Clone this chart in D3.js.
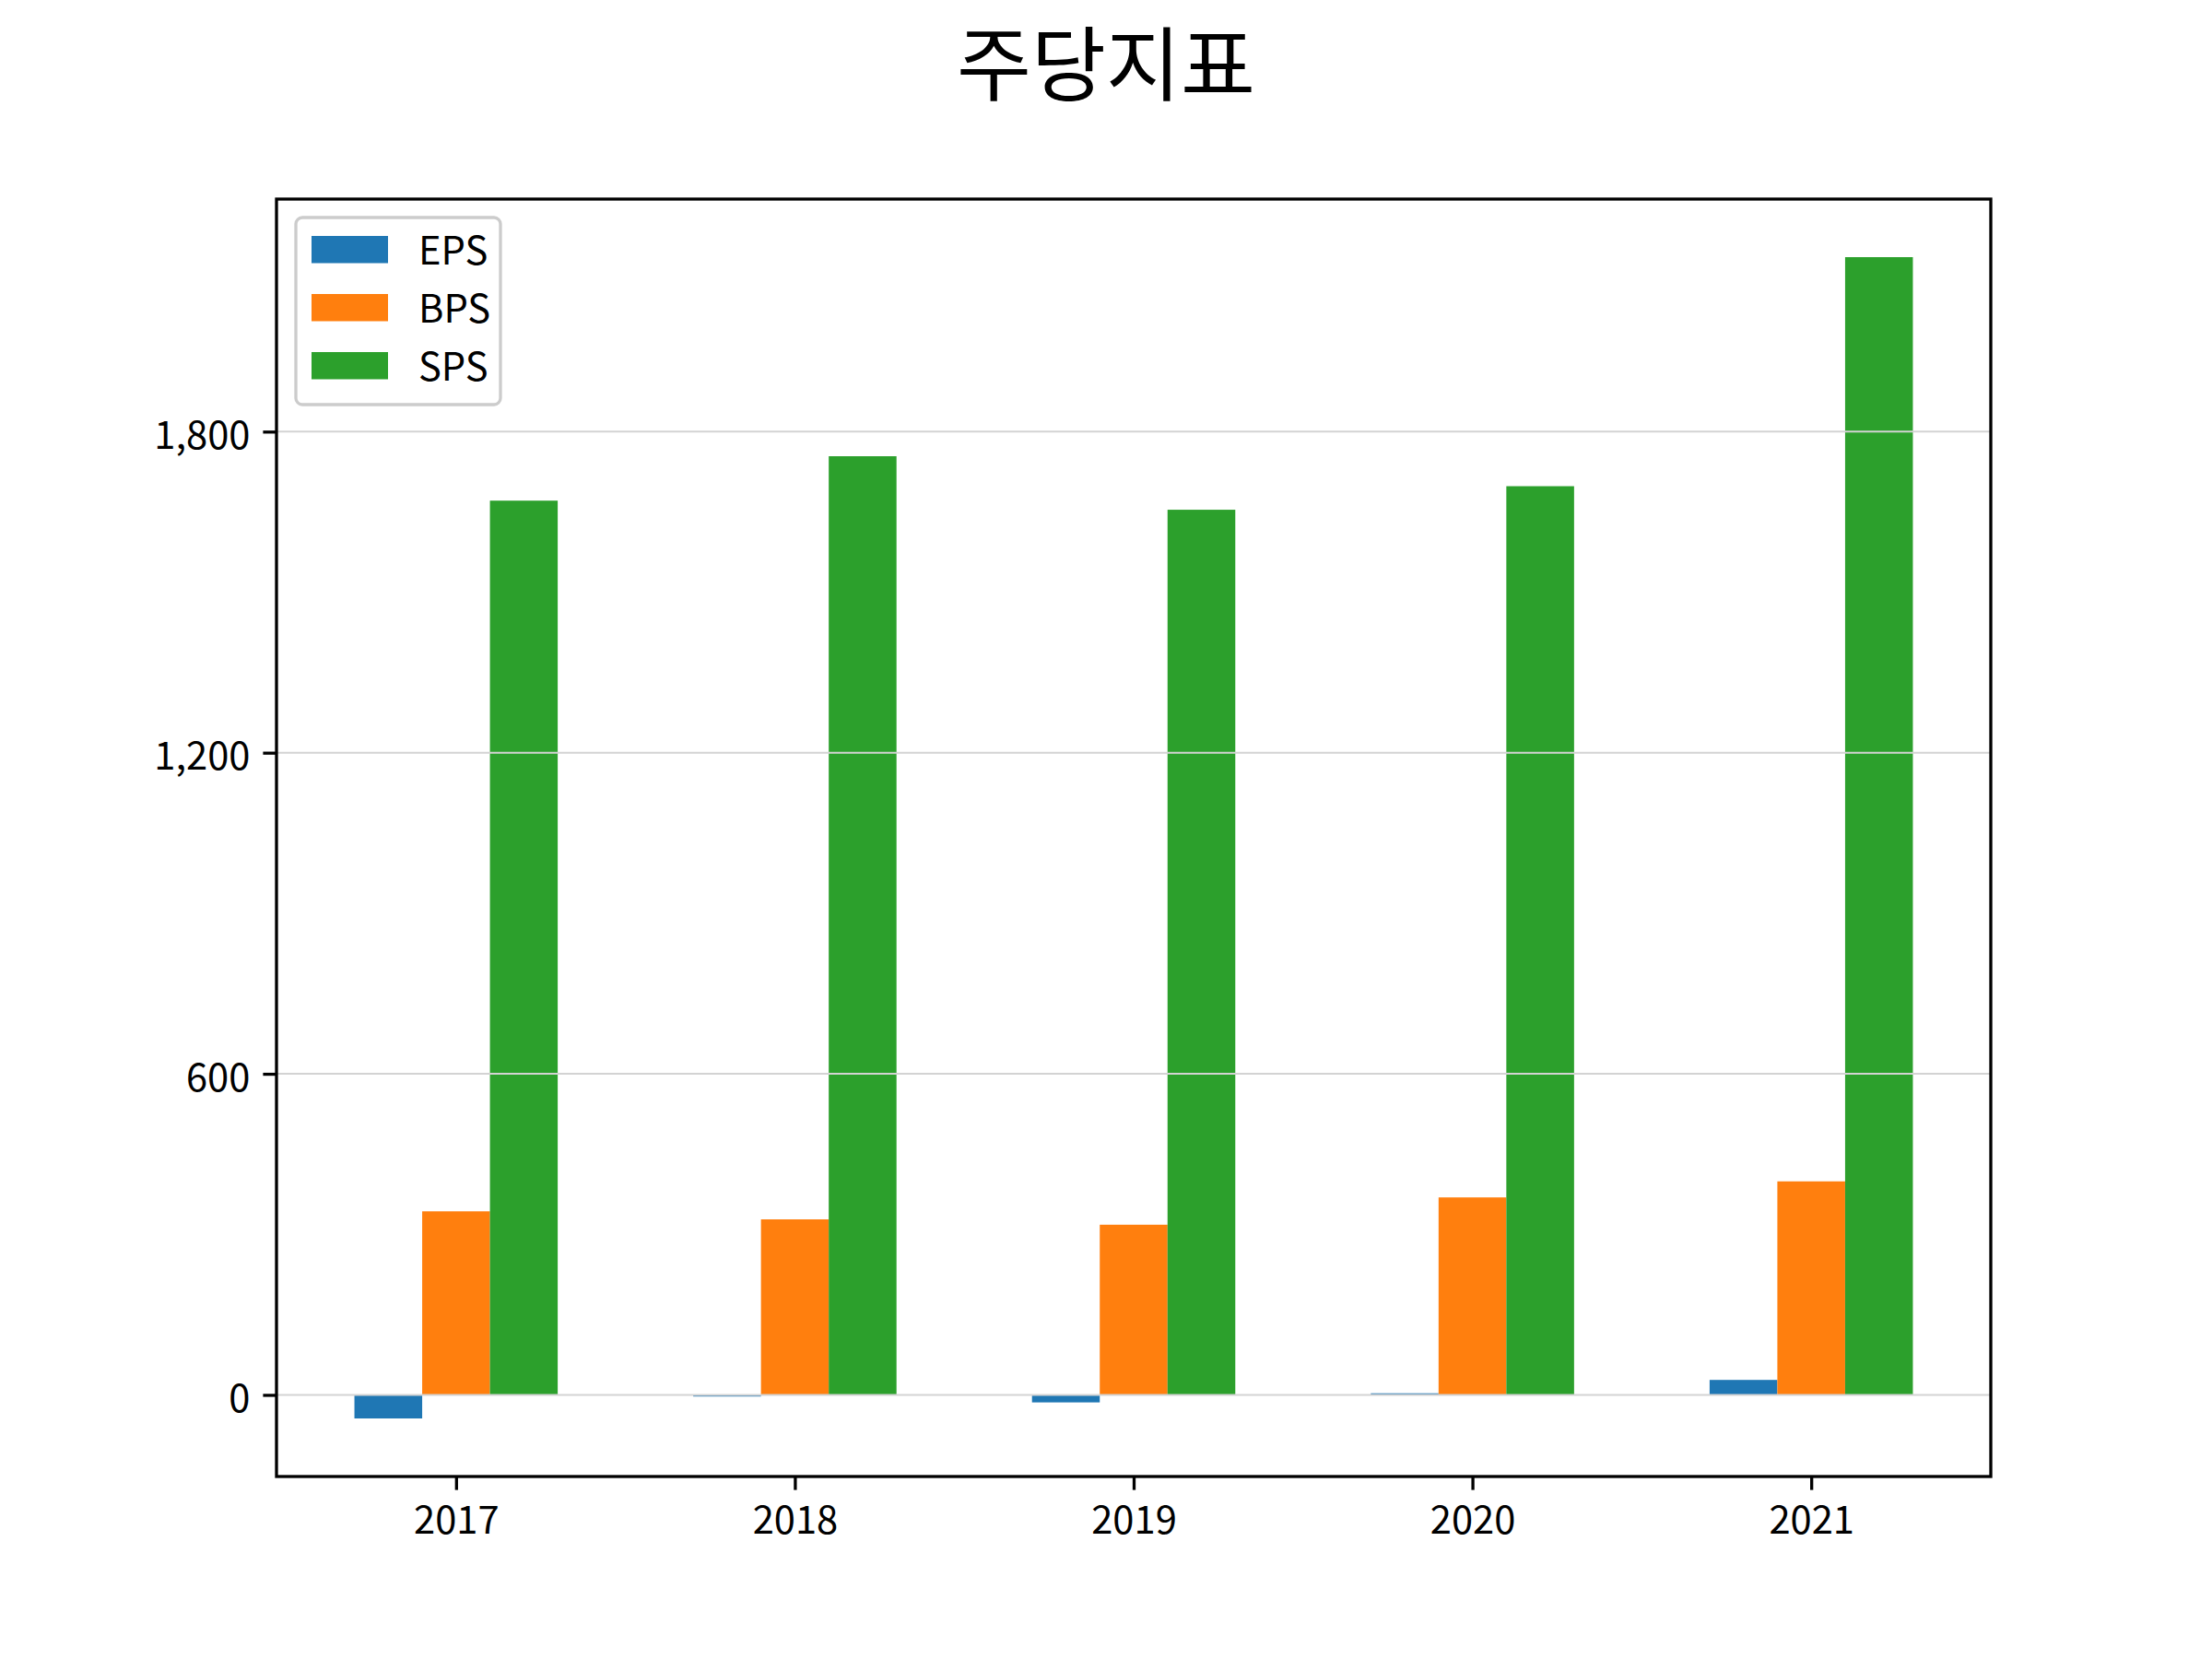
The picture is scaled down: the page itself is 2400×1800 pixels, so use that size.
<!DOCTYPE html>
<html>
<head>
<meta charset="utf-8">
<script src="https://cdn.jsdelivr.net/npm/d3@7"></script>
<style>
  html, body { margin: 0; padding: 0; background: #ffffff; }
  svg { display: block; }
  text { font-family: "Noto Sans CJK KR", "Noto Sans", sans-serif; fill: #000; }
</style>
</head>
<body>
<svg id="chart" width="2400" height="1800"></svg>
<script>
// ---- data ----
const years = ["2017", "2018", "2019", "2020", "2021"];
const seriesNames = ["EPS", "BPS", "SPS"];
const eps = [-44, -3, -14, 3, 28];
const bps = [343, 328, 318, 369, 399];
const sps = [1671, 1754, 1654, 1698, 2126];
const yTickValues = [0, 600, 1200, 1800];
const chartTitle = "주당지표";
const colors = ["#1f77b4", "#ff7f0e", "#2ca02c"];

const seriesValues = [eps, bps, sps];

// ---- layout ----
const W = 2400, H = 1800;
const plotL = 300, plotR = 2160, plotT = 216, plotB = 1602;
const barW = 0.2;

const svg = d3.select("#chart");
svg.append("rect").attr("width", W).attr("height", H).attr("fill", "#fff");

// x domain as matplotlib auto margins (5%)
const xMin = -0.3, xMax = (years.length - 1) + 0.3;
const xPad = (xMax - xMin) * 0.05;
const x = d3.scaleLinear().domain([xMin - xPad, xMax + xPad]).range([plotL, plotR]);

const allVals = seriesValues.flat();
const vMin = Math.min(0, d3.min(allVals)), vMax = d3.max(allVals);
const yPad = (vMax - vMin) * 0.05;
const y = d3.scaleLinear().domain([vMin - yPad, vMax + yPad]).range([plotB, plotT]);

const g = svg.append("g");

// bars
seriesValues.forEach((vals, si) => {
  const offset = (si - 1) * barW; // center offset
  g.selectAll(null)
    .data(vals)
    .enter()
    .append("rect")
    .attr("x", (d, i) => x(i + offset - barW / 2))
    .attr("width", (d, i) => x(i + offset + barW / 2) - x(i + offset - barW / 2))
    .attr("y", d => y(Math.max(0, d)))
    .attr("height", d => Math.abs(y(0) - y(d)))
    .attr("fill", colors[si]);
});

// grid lines (above bars, like matplotlib default)
g.selectAll(null)
  .data(yTickValues)
  .enter()
  .append("line")
  .attr("x1", plotL).attr("x2", plotR)
  .attr("y1", d => y(d)).attr("y2", d => y(d))
  .attr("stroke", "#d3d3d3")
  .attr("stroke-width", 2);

// axes
const fmt = d3.format(",");
const yAxis = d3.axisLeft(y).tickValues(yTickValues).tickFormat(fmt).tickSize(14.6).tickPadding(14);
const xAxis = d3.axisBottom(x).tickValues(d3.range(years.length)).tickFormat(i => years[i]).tickSize(14.6).tickPadding(16);

const ya = svg.append("g").attr("transform", `translate(${plotL},0)`).call(yAxis);
const xa = svg.append("g").attr("transform", `translate(0,${plotB})`).call(xAxis);

[ya, xa].forEach(a => {
  a.select(".domain").remove();
  a.selectAll(".tick line").attr("stroke", "#000").attr("stroke-width", 3.3);
  a.selectAll(".tick text")
    .attr("font-family", '"Noto Sans CJK KR", "Noto Sans", sans-serif')
    .attr("font-size", 41.7)
    .attr("fill", "#000");
});
ya.selectAll(".tick text").attr("dy", null).attr("dominant-baseline", "central");
xa.selectAll(".tick text").attr("dy", null).attr("y", 62);

// frame (spines)
svg.append("rect")
  .attr("x", plotL).attr("y", plotT)
  .attr("width", plotR - plotL).attr("height", plotB - plotT)
  .attr("fill", "none")
  .attr("stroke", "#000")
  .attr("stroke-width", 3.3);

// legend
const lg = svg.append("g");
lg.append("rect")
  .attr("x", 321).attr("y", 236)
  .attr("width", 222).attr("height", 203)
  .attr("rx", 7).attr("ry", 7)
  .attr("fill", "#fff").attr("fill-opacity", 0.8)
  .attr("stroke", "#cccccc").attr("stroke-width", 3.3);

const legendRows = [0, 1, 2];
lg.selectAll(null)
  .data(legendRows)
  .enter()
  .append("rect")
  .attr("x", 338)
  .attr("y", i => 256 + i * 63)
  .attr("width", 83)
  .attr("height", 29.5)
  .attr("fill", i => colors[i]);

lg.selectAll(null)
  .data(legendRows)
  .enter()
  .append("text")
  .attr("x", 454)
  .attr("y", i => 256 + i * 63 + 13)
  .attr("dominant-baseline", "central")
  .attr("font-size", 41.7)
  .text(i => seriesNames[i]);

// title
svg.append("text")
  .attr("x", 1200)
  .attr("y", 102)
  .attr("text-anchor", "middle")
  .attr("font-size", 88)
  .text(chartTitle);
</script>
</body>
</html>
